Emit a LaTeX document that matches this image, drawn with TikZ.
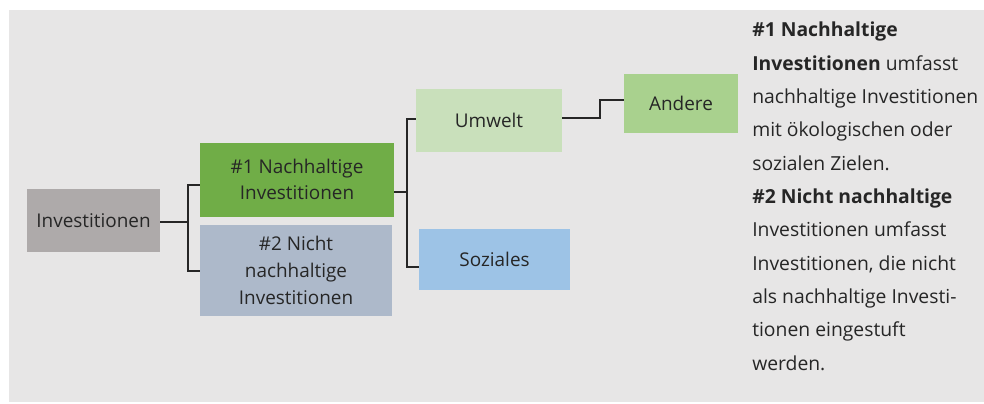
\documentclass[tikz,border=0pt]{standalone}
\usepackage{fontspec}
\setmainfont{Open Sans}
\definecolor{bg}{HTML}{E7E6E6}
\definecolor{cinv}{HTML}{AEAAAA}
\definecolor{cnach}{HTML}{70AD47}
\definecolor{cnicht}{HTML}{ADB9CA}
\definecolor{cumw}{HTML}{C9E0BB}
\definecolor{csoz}{HTML}{9DC3E6}
\definecolor{cand}{HTML}{A9D18E}
\definecolor{txt}{HTML}{262626}
\begin{document}
\begin{tikzpicture}[x=0.75pt,y=-0.75pt,
  box/.style={inner sep=0pt, align=center, font=\fontsize{14.2}{20}\selectfont, text=txt},
  conn/.style={draw=txt, line width=1.2pt},
  side/.style={anchor=base west, inner sep=0pt, font=\fontsize{14.5}{18}\selectfont, text=txt}]
\useasboundingbox (0,0) rectangle (984,403);
\fill[bg] (9,10) rectangle (984,402);
% boxes
\node[box, fill=cinv, minimum width=133*0.75pt, minimum height=63*0.75pt] (inv) at (93.5,220.5) {Investitionen};
\node[box, fill=cnach, minimum width=194*0.75pt, minimum height=74*0.75pt] (nach) at (297,179.5) {\#1 Nachhaltige\\Investitionen};
\node[box, fill=cnicht, minimum width=192*0.75pt, minimum height=91*0.75pt] (nicht) at (296,270.5) {\#2 Nicht\\nachhaltige\\Investitionen};
\node[box, fill=cumw, minimum width=146*0.75pt, minimum height=63*0.75pt] (umw) at (489,120.5) {Umwelt};
\node[box, fill=csoz, minimum width=151*0.75pt, minimum height=61*0.75pt] (soz) at (494.5,259.5) {Soziales};
\node[box, fill=cand, minimum width=114*0.75pt, minimum height=59*0.75pt] (and) at (681,103.5) {Andere};
% connectors
\coordinate (j1) at (188,222);
\draw[conn] (inv.east |- j1) -- (j1);
\draw[conn] (nach.west |- 0,185) -| (j1) |- (nicht.west |- 0,271);
\coordinate (j2) at (407,192);
\draw[conn] (nach.east |- j2) -- (j2);
\draw[conn] (umw.west |- 0,119) -| (j2) |- (soz.west |- 0,267);
\coordinate (j3) at (600,118);
\draw[conn] (umw.east |- j3) -- (j3) |- (and.west |- 0,100);
% side text
\node[side] (l1) at (752,37) {\textbf{\#1 Nachhaltige}};
\node[side] (l2) at (752,70.3) {\textbf{Investitionen} umfasst};
\node[side] (l3) at (752,103.6) {nachhaltige Investitionen};
\node[side] (l4) at (752,136.9) {mit ökologischen oder};
\node[side] (l5) at (752,170.2) {sozialen Zielen.};
\node[side] (l6) at (752,203.5) {\textbf{\#2 Nicht nachhaltige}};
\node[side] (l7) at (752,236.8) {Investitionen umfasst};
\node[side] (l8) at (752,270.1) {Investitionen, die nicht};
\node[side] (l9) at (752,303.4) {als nachhaltige Investi-};
\node[side] (l10) at (752,336.7) {tionen eingestuft};
\node[side] (l11) at (752,370) {werden.};
\end{tikzpicture}
\end{document}
